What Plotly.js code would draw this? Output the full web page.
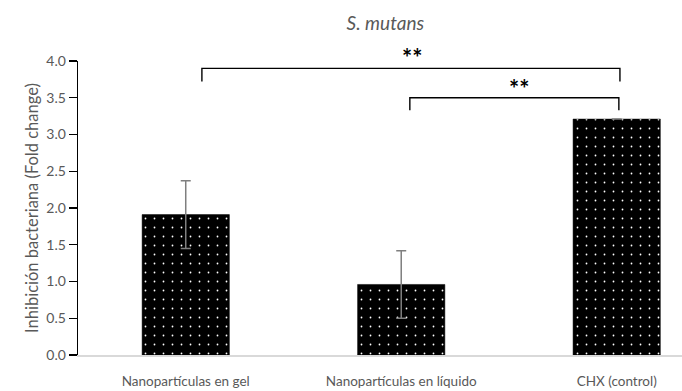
<!DOCTYPE html>
<html><head><meta charset="utf-8">
<script src="https://cdn.plot.ly/plotly-3.0.1.min.js"></script>
<style>html,body{margin:0;padding:0;background:#fff}</style>
</head><body>
<div id="chart" style="width:682px;height:391px"></div>
<script>
const categories = ["Nanopartículas en gel", "Nanopartículas en líquido", "CHX (control)"];
const values = [1.91, 0.96, 3.21];
const errors = [0.46, 0.46, 0];
const yTicks = [0, 0.5, 1, 1.5, 2, 2.5, 3, 3.5, 4];
const sigLabels = ["**", "**"];

const gray = "#595959";
const font = "Lato, 'Open Sans', sans-serif";

const trace = {
  type: "bar",
  x: [0, 1, 2],
  y: values,
  width: 0.405,
  marker: {
    color: "#000",
    line: {color: "#000", width: 0.5},
    pattern: {shape: ".", bgcolor: "#000", fgcolor: "#fff", size: 9, solidity: 0.03, fillmode: "replace"}
  },
  error_y: {type: "data", array: errors, visible: true, color: "#7f7f7f", thickness: 1.5, width: 5},
  hoverinfo: "none"
};

const shapes = [
  {type: "path", xref: "x", yref: "y", path: "M0.075,3.72 L0.075,3.9 L2.015,3.9 L2.015,3.72", line: {color: "#000", width: 1.4}},
  {type: "path", xref: "x", yref: "y", path: "M1.04,3.33 L1.04,3.5 L2.01,3.5 L2.01,3.33", line: {color: "#000", width: 1.4}}
];
const annotations = [
  {x: 1.05, y: 1.0135, xref: "x", yref: "paper", text: "<b>" + sigLabels[0] + "</b>", showarrow: false, yanchor: "middle", font: {family: font, size: 24, color: "#000"}},
  {x: 1.545, y: 3.62, xref: "x", yref: "y", text: "<b>" + sigLabels[1] + "</b>", showarrow: false, yanchor: "middle", font: {family: font, size: 24, color: "#000"}}
];

const layout = {
  width: 682, height: 391,
  margin: {l: 78, r: 0, t: 61, b: 36, pad: 0},
  paper_bgcolor: "#fff", plot_bgcolor: "#fff",
  showlegend: false,
  title: {text: "<i>S. mutans</i>", x: 0.565, xanchor: "center", y: 0.94, yanchor: "middle", font: {family: font, size: 19, color: gray}},
  xaxis: {
    range: [-0.5, 2.303], tickvals: [0, 1, 2], ticktext: categories,
    showline: true, linecolor: "#d9d9d9", linewidth: 1.5, ticks: "", showgrid: false, zeroline: false,
    tickfont: {family: font, size: 13.5, color: gray}, ticklabelstandoff: 13, fixedrange: true
  },
  yaxis: {
    range: [0, 4], tickvals: yTicks, tickformat: ".1f",
    showline: true, linecolor: "#000", linewidth: 1.3, ticks: "outside", ticklen: 8, tickcolor: "#000", tickwidth: 1.3,
    showgrid: false, zeroline: false,
    tickfont: {family: font, size: 14, color: gray},
    title: {text: "Inhibición bacteriana (Fold change)", font: {family: font, size: 16.5, color: gray}, standoff: 3},
    fixedrange: true
  },
  shapes: shapes,
  annotations: annotations
};

Plotly.newPlot("chart", [trace], layout, {displayModeBar: false, staticPlot: true});
</script>
</body></html>
